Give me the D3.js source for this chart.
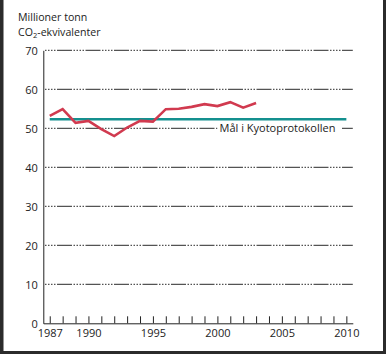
<!DOCTYPE html>
<html><head><meta charset="utf-8">
<script src="https://cdn.jsdelivr.net/npm/d3@7"></script>
<style>html,body{margin:0;padding:0;background:#fff}svg{display:block}</style>
</head><body>
<script>
const years = [1987,1988,1989,1990,1991,1992,1993,1994,1995,1996,1997,1998,1999,2000,2001,2002,2003];
const emissions = [53.2,54.9,51.4,51.9,49.8,48.0,50.2,51.9,51.7,54.9,55.0,55.5,56.2,55.7,56.7,55.3,56.5];
const targetYears = [1987,2010];
const targetValue = 52.3;
const yTicks = [0,10,20,30,40,50,60,70];
const xTickLabels = [1987,1990,1995,2000,2005,2010];
const titleLines = ["Millioner tonn","CO","-ekvivalenter"];
const targetLabel = "Mål i Kyotoprotokollen";

const W=386,H=354;
const font = "'Open Sans', sans-serif";
const fs = 11;
const svg = d3.select("body").append("svg").attr("width",W).attr("height",H);
svg.append("rect").attr("width",W).attr("height",H).attr("fill","#fff");

const x = d3.scaleLinear().domain([1986.5,2010.5]).range([43.3,352.8]);
const y = d3.scaleLinear().domain([0,70]).range([323.3,50.3]);

// gridlines
const dash = "15,1.5,1.5,1.5,1.5,1.5,1.5,1.5,1.5,1.5";
svg.append("g").selectAll("line").data(yTicks.filter(d=>d>0)).join("line")
  .attr("x1",44).attr("x2",352.8).attr("y1",d=>y(d)).attr("y2",d=>y(d))
  .attr("stroke","#2a2a2a").attr("stroke-width",1).attr("stroke-dasharray",dash)
  .attr("stroke-dashoffset",-13);

// y axis
const yAxis = d3.axisLeft(y).tickValues(yTicks).tickSize(0).tickPadding(5.5);
const gy = svg.append("g").attr("transform","translate(43.3,0)").call(yAxis);
gy.select(".domain").attr("stroke","#222");
gy.selectAll("text").attr("font-family",font).attr("font-size",fs).attr("fill","#222").attr("dy","0.35em");

// x axis
const xAxis = d3.axisBottom(x).tickValues(d3.range(1987,2011)).tickSize(-7).tickSizeOuter(0)
  .tickFormat(d=>xTickLabels.includes(d)?String(d):"");
const gx = svg.append("g").attr("transform","translate(0,323.3)").call(xAxis);
gx.select(".domain").attr("stroke","#222");
gx.selectAll(".tick line").attr("stroke","#222");
gx.selectAll("text").attr("font-family",font).attr("font-size",fs).attr("fill","#222").attr("y",6).attr("dy","0.71em");

// target line
svg.append("path").datum(targetYears)
  .attr("d",d3.line().x(d=>x(d)).y(()=>y(targetValue)))
  .attr("stroke","#14908f").attr("stroke-width",2.5).attr("fill","none");

// label with white background
const lx = 219.5, ly = y(50);
svg.append("rect").attr("x",lx-2).attr("y",ly-6).attr("width",124).attr("height",12).attr("fill","#fff");
svg.append("text").attr("x",lx).attr("y",ly).attr("dy","0.35em")
  .attr("font-family",font).attr("font-size",fs).attr("fill","#222").text(targetLabel);

// emissions line
svg.append("path").datum(years.map((yr,i)=>[yr,emissions[i]]))
  .attr("d",d3.line().x(d=>x(d[0])).y(d=>y(d[1])))
  .attr("stroke","#d13a4f").attr("stroke-width",2.6).attr("fill","none").attr("stroke-linejoin","miter");

// title
svg.append("text").attr("x",18).attr("y",21.3).attr("font-family",font).attr("font-size",10.6).attr("fill","#222").text(titleLines[0]);
const t2 = svg.append("text").attr("x",18).attr("y",35.8).attr("font-family",font).attr("font-size",10.6).attr("fill","#222");
t2.append("tspan").text(titleLines[1]);
t2.append("tspan").attr("font-size",7.5).attr("dy",2.5).text("2");
t2.append("tspan").attr("dy",-2.5).text(titleLines[2]);

// frame (left, right, bottom)
svg.append("rect").attr("x",0).attr("y",0).attr("width",3.5).attr("height",H).attr("fill","#2b2b2b");
svg.append("rect").attr("x",W-3).attr("y",0).attr("width",3).attr("height",H).attr("fill","#2b2b2b");
svg.append("rect").attr("x",0).attr("y",H-3).attr("width",W).attr("height",3).attr("fill","#2b2b2b");
</script>
</body></html>
